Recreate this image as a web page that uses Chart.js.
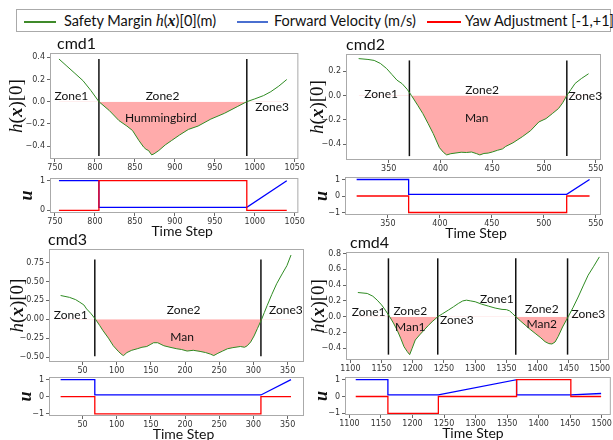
<!DOCTYPE html>
<html>
<head>
<meta charset="utf-8">
<script src="https://cdn.jsdelivr.net/npm/chart.js@4.4.0/dist/chart.umd.min.js"></script>
<style>
  body { margin: 0; background: #fff; width: 613px; height: 440px; position: relative; overflow: hidden; font-family: Lato, sans-serif; }
  canvas { position: absolute; }
  #legend { position: absolute; left: 16px; top: 9px; width: 595px; height: 23px; border: 1px solid #aaa; box-sizing: border-box; font-size: 14.5px; color: #111; }
  #legend .ln { position: absolute; top: 11px; height: 2px; }
  #legend .tx { position: absolute; top: 2px; white-space: nowrap; }
  .m { font-family: "Liberation Serif", serif; font-style: italic; font-size: 16px; }
  .mb { font-family: "Liberation Serif", serif; font-style: italic; font-weight: bold; font-size: 16px; }
</style>
</head>
<body>
<div id="legend">
  <div class="ln" style="left:7px;width:32px;background:#3f8a2a"></div>
  <div class="tx" style="left:47px">Safety Margin <span class="m">h</span>(<span class="mb">x</span>)[0](m)</div>
  <div class="ln" style="left:220px;width:31px;background:#4a6fd0"></div>
  <div class="tx" style="left:257px">Forward Velocity (m/s)</div>
  <div class="ln" style="left:410px;width:34px;background:#ff0000"></div>
  <div class="tx" style="left:448px">Yaw Adjustment [-1,+1]</div>
</div>

<canvas id="c1"></canvas><canvas id="u1"></canvas>
<canvas id="c2"></canvas><canvas id="u2"></canvas>
<canvas id="c3"></canvas><canvas id="u3"></canvas>
<canvas id="c4"></canvas><canvas id="u4"></canvas>

<script>
// ---- cmd1 ----
const t1 = [755, 765, 775, 785, 795, 805, 818, 830, 840, 847, 855, 861, 864, 867, 871, 874, 880, 888, 896, 906, 917, 929, 945, 962, 978, 990, 1000, 1011, 1020, 1030, 1040];
const h1 = [0.385, 0.32, 0.255, 0.19, 0.1, 0.0, -0.08, -0.17, -0.22, -0.26, -0.35, -0.41, -0.43, -0.44, -0.48, -0.47, -0.44, -0.39, -0.35, -0.30, -0.25, -0.22, -0.157, -0.105, -0.045, 0.0, 0.025, 0.055, 0.09, 0.14, 0.2];
const zones1 = [805, 990];
const zoneSpan1 = [-0.49, 0.385];
const blueT1 = [755, 805, 805, 990, 1040];
const blue1 = [1, 1, 0.1, 0.1, 1];
const redT1 = [755, 805, 805, 990, 990, 1040];
const red1 = [0, 0, 1, 1, 0, 0];
const xTicks1 = [750, 800, 850, 900, 950, 1000, 1050];
const yTicks1 = [-0.4, -0.2, 0, 0.2, 0.4];
const uTicks1 = [0, 1];
const notes1 = [
  { text: "Zone1", x: 770.6, y: 0.054 },
  { text: "Zone2", x: 884.6, y: 0.054 },
  { text: "Zone3", x: 1021.6, y: -0.045 },
  { text: "Hummingbird", x: 882.5, y: -0.15 }
];

// ---- cmd2 ----
const t2 = [321, 330, 336, 342, 348, 353, 358, 363, 368, 372, 378, 383, 388, 393, 399, 403, 406, 410, 415, 420, 425, 430, 435, 438, 442, 446, 450, 455, 460, 463, 470, 479, 487, 495, 502, 508, 514, 518, 522, 526, 530, 536, 543];
const h2 = [0.305, 0.298, 0.29, 0.265, 0.223, 0.175, 0.127, 0.098, 0.05, 0.0, -0.08, -0.149, -0.23, -0.314, -0.43, -0.47, -0.49, -0.48, -0.474, -0.468, -0.47, -0.466, -0.48, -0.49, -0.478, -0.475, -0.466, -0.452, -0.44, -0.42, -0.39, -0.34, -0.29, -0.218, -0.19, -0.149, -0.107, -0.06, 0.0, 0.05, 0.1, 0.14, 0.18];
const zones2 = [370, 522];
const zoneSpan2 = [-0.5, 0.29];
const blueT2 = [320, 370, 370, 522, 544];
const blue2 = [1, 1, 0.1, 0.1, 1];
const redT2 = [320, 370, 370, 522, 522, 544];
const red2 = [0, 0, -1, -1, 0, 0];
const xTicks2 = [350, 400, 450, 500, 550];
const yTicks2 = [-0.4, -0.2, 0, 0.2];
const uTicks2 = [-1, 0, 1];
const notes2 = [
  { text: "Zone1", x: 342.7, y: 0.008 },
  { text: "Zone2", x: 440.3, y: 0.044 },
  { text: "Zone3", x: 539.8, y: -0.003 },
  { text: "Man", x: 435, y: -0.185 }
];

// ---- cmd3 ----
const t3 = [18, 31, 40, 46, 52, 56, 62, 69, 75, 80, 88, 95, 103, 108, 110, 115, 122, 130, 137, 144, 150, 154, 160, 169, 178, 188, 195, 203, 212, 222, 230, 237, 242, 248, 255, 262, 270, 281, 287, 291, 296, 301, 306, 312, 316, 320, 327, 334, 342, 349, 355];
const h3 = [0.315, 0.29, 0.26, 0.226, 0.19, 0.137, 0.08, 0.0, -0.08, -0.15, -0.25, -0.35, -0.43, -0.47, -0.48, -0.44, -0.41, -0.39, -0.37, -0.36, -0.33, -0.31, -0.31, -0.35, -0.37, -0.39, -0.40, -0.42, -0.41, -0.425, -0.44, -0.46, -0.48, -0.45, -0.42, -0.39, -0.375, -0.36, -0.37, -0.35, -0.30, -0.22, -0.12, 0.0, 0.09, 0.18, 0.33, 0.47, 0.6, 0.71, 0.85];
const zones3 = [68, 311];
const zoneSpan3 = [-0.49, 0.79];
const blueT3 = [18, 68, 68, 311, 355];
const blue3 = [1, 1, 0.1, 0.1, 1];
const redT3 = [18, 68, 68, 311, 311, 355];
const red3 = [0, 0, -1, -1, 0, 0];
const xTicks3 = [50, 100, 150, 200, 250, 300, 350];
const yTicks3 = [-0.5, -0.25, 0, 0.25, 0.5, 0.75];
const uTicks3 = [-1, 0, 1];
const notes3 = [
  { text: "Zone1", x: 32.8, y: 0.058 },
  { text: "Zone2", x: 198, y: 0.115 },
  { text: "Zone3", x: 347.5, y: 0.115 },
  { text: "Man", x: 195.6, y: -0.24 }
];

// ---- cmd4 ----
const t4 = [1112, 1127, 1136, 1143, 1150, 1156, 1163, 1169, 1175, 1181, 1186, 1191, 1195, 1199, 1204, 1211, 1218, 1225, 1231, 1240, 1248, 1257, 1265, 1273, 1280, 1286, 1293, 1300, 1310, 1321, 1332, 1343, 1350, 1355, 1360, 1365, 1372, 1380, 1388, 1396, 1404, 1412, 1418, 1423, 1428, 1433, 1440, 1449, 1457, 1465, 1473, 1481, 1490, 1499];
const h4 = [0.307, 0.295, 0.26, 0.21, 0.15, 0.084, 0.0, -0.08, -0.17, -0.28, -0.38, -0.44, -0.48, -0.4, -0.295, -0.23, -0.17, -0.11, -0.063, 0.0, 0.04, 0.084, 0.125, 0.168, 0.2, 0.21, 0.2, 0.19, 0.16, 0.135, 0.11, 0.093, 0.09, 0.075, 0.04, 0.0, -0.05, -0.105, -0.16, -0.21, -0.26, -0.316, -0.34, -0.345, -0.32, -0.25, -0.13, 0.0, 0.12, 0.25, 0.39, 0.526, 0.64, 0.758];
const zones4 = [1161, 1240, 1365, 1448];
const zoneSpan4 = [-0.48, 0.74];
const blueT4 = [1110, 1161, 1161, 1241, 1365, 1365, 1451, 1499];
const blue4 = [1, 1, 0.1, 0.1, 1, 0.1, 0.1, 0.18];
const redT4 = [1110, 1161, 1161, 1241, 1241, 1365, 1365, 1451, 1451, 1499];
const red4 = [0, 0, -1, -1, 0, 0, 1, 1, 0, 0];
const xTicks4 = [1100, 1150, 1200, 1250, 1300, 1350, 1400, 1450, 1500];
const yTicks4 = [-0.4, -0.2, 0, 0.2, 0.4, 0.6, 0.8];
const uTicks4 = [-1, 0, 1];
const notes4 = [
  { text: "Zone1", x: 1129.3, y: 0.055 },
  { text: "Zone2", x: 1196, y: 0.072 },
  { text: "Man1", x: 1196, y: -0.126 },
  { text: "Zone3", x: 1270.7, y: -0.042 },
  { text: "Zone1", x: 1334.7, y: 0.223 },
  { text: "Zone2", x: 1406.7, y: 0.097 },
  { text: "Man2", x: 1406.7, y: -0.097 },
  { text: "Zone3", x: 1481.3, y: 0.034 }
];

const GREEN = "#2e8b22";
const BLUE = "#0000ff";
const RED = "#ff0000";
const SERIF = '"Liberation Serif", serif';

function pts(xs, ys) {
  return xs.map((x, i) => ({ x: x, y: ys[i] }));
}

function fmt(dec) {
  return v => v.toFixed(dec).replace("-", "\u2212");
}

// draws the frame, labels and zone notes for a subplot
const decor = {
  id: "decor",
  afterDraw(chart, args, o) {
    const ctx = chart.ctx;
    const a = chart.chartArea;
    const sx = chart.scales.x, sy = chart.scales.y;
    ctx.save();
    ctx.strokeStyle = "#aaaaaa";
    ctx.lineWidth = 1;
    ctx.strokeRect(a.left + 0.5, a.top + 0.5, a.right - a.left - 1, a.bottom - a.top - 1);

    ctx.fillStyle = "#111";
    if (o.title) {
      ctx.font = "16px Lato";
      ctx.textAlign = "left";
      ctx.textBaseline = "middle";
      ctx.fillText(o.title, a.left + o.titleDx, a.top - 9);
    }

    (o.notes || []).forEach(n => {
      ctx.font = "12px Lato";
      ctx.textAlign = "center";
      ctx.textBaseline = "middle";
      ctx.fillText(n.text, sx.getPixelForValue(n.x), sy.getPixelForValue(n.y));
    });

    if (o.ylabel) {
      ctx.translate(a.left - o.ylabelDx, (a.top + a.bottom) / 2);
      ctx.rotate(-Math.PI / 2);
      ctx.textBaseline = "middle";
      ctx.textAlign = "left";
      let w = 0;
      o.ylabel.forEach(s => { ctx.font = s[1]; w += ctx.measureText(s[0]).width; });
      let x = -w / 2;
      o.ylabel.forEach(s => {
        ctx.font = s[1];
        ctx.fillText(s[0], x, 0);
        x += ctx.measureText(s[0]).width;
      });
      ctx.setTransform(1, 0, 0, 1, 0, 0);
    }

    if (o.xlabel) {
      ctx.font = "14px Lato";
      ctx.textAlign = "center";
      ctx.textBaseline = "middle";
      ctx.fillText(o.xlabel, (a.left + a.right) / 2 + (o.xlabelDx || 0), a.bottom + 18);
    }
    ctx.restore();
  }
};

const hLabel = [
  ["h", "italic 19px " + SERIF],
  ["(", "19px " + SERIF],
  ["x", "italic bold 19px " + SERIF],
  [")[0]", "19px " + SERIF]
];
const uLabel = [["u", "italic bold 18px " + SERIF]];

function makeChart(id, box, plot, datasets, xr, yr, xTicks, yTicks, yDec, deco) {
  const cv = document.getElementById(id);
  cv.width = box.w; cv.height = box.h;
  cv.style.left = box.x + "px"; cv.style.top = box.y + "px";
  const tickFont = { family: "DejaVu Sans", size: 8 };
  return new Chart(cv, {
    type: "line",
    data: { datasets: datasets },
    plugins: [decor],
    options: {
      responsive: false,
      animation: false,
      events: [],
      layout: { padding: { top: plot.t - box.y, right: box.x + box.w - plot.r, left: 0, bottom: 0 } },
      plugins: { legend: { display: false }, tooltip: { enabled: false }, decor: deco },
      scales: {
        x: {
          type: "linear", min: xr[0], max: xr[1],
          afterFit: s => { s.height = box.y + box.h - plot.b; },
          afterBuildTicks: s => { s.ticks = xTicks.map(v => ({ value: v })); },
          border: { display: false },
          grid: { drawOnChartArea: false, tickLength: 3, color: "#666" },
          ticks: { font: tickFont, color: "#333", padding: 1, maxRotation: 0, autoSkip: false, callback: v => String(v) }
        },
        y: {
          type: "linear", min: yr[0], max: yr[1],
          afterFit: s => { s.width = plot.l - box.x; },
          afterBuildTicks: s => { s.ticks = yTicks.map(v => ({ value: v })); },
          border: { display: false },
          grid: { drawOnChartArea: false, tickLength: 3, color: "#666" },
          ticks: { font: tickFont, color: "#333", padding: 2, autoSkip: false, callback: fmt(yDec) }
        }
      }
    }
  });
}

function mainSets(t, h, zones, span) {
  const sets = [{
    data: pts(t, h), borderColor: GREEN, borderWidth: 1, pointRadius: 0, tension: 0,
    fill: { target: { value: 0 }, above: "rgba(0,0,0,0)", below: "rgba(255,0,0,0.33)" }
  }];
  zones.forEach(z => {
    sets.push({ data: pts([z, z], span), borderColor: "#111", borderWidth: 1.5, pointRadius: 0, fill: false });
  });
  return sets;
}

function ctrlSets(bt, b, rt, r) {
  return [
    { data: pts(rt, r), borderColor: RED, borderWidth: 1.3, pointRadius: 0, fill: false },
    { data: pts(bt, b), borderColor: BLUE, borderWidth: 1.3, pointRadius: 0, fill: false }
  ];
}

// panel cmd1
makeChart("c1", { x: 0, y: 30, w: 306, h: 144 }, { l: 50, t: 53, r: 302, b: 159 },
  mainSets(t1, h1, zones1, zoneSpan1), [743.8, 1054.5], [-0.517, 0.439], xTicks1, yTicks1, 1,
  { title: "cmd1", titleDx: 7, notes: notes1, ylabel: hLabel, ylabelDx: 33 });
makeChart("u1", { x: 0, y: 170, w: 306, h: 72 }, { l: 50, t: 178, r: 302, b: 213 },
  ctrlSets(blueT1, blue1, redT1, red1), [743.8, 1054.5], [-0.09, 1.09], xTicks1, uTicks1, 0,
  { ylabel: uLabel, ylabelDx: 22.5, xlabel: "Time Step", xlabelDx: 8 });

// panel cmd2
makeChart("c2", { x: 306, y: 30, w: 307, h: 144 }, { l: 346, t: 54, r: 601, b: 160 },
  mainSets(t2, h2, zones2, zoneSpan2), [308.8, 555], [-0.532, 0.343], xTicks2, yTicks2, 1,
  { title: "cmd2", titleDx: 0, notes: notes2, ylabel: hLabel, ylabelDx: 28 });
makeChart("u2", { x: 306, y: 170, w: 307, h: 72 }, { l: 345, t: 177, r: 601, b: 215 },
  ctrlSets(blueT2, blue2, redT2, red2), [308.8, 555], [-1.15, 1.15], xTicks2, uTicks2, 0,
  { ylabel: uLabel, ylabelDx: 23, xlabel: "Time Step", xlabelDx: 3 });

// panel cmd3
makeChart("c3", { x: 0, y: 226, w: 306, h: 151 }, { l: 49, t: 249, r: 304, b: 362 },
  mainSets(t3, h3, zones3, zoneSpan3), [1, 374], [-0.565, 0.93], xTicks3, yTicks3, 2,
  { title: "cmd3", titleDx: -1, notes: notes3, ylabel: hLabel, ylabelDx: 31 });
makeChart("u3", { x: 0, y: 370, w: 306, h: 70 }, { l: 49, t: 377, r: 304, b: 416 },
  ctrlSets(blueT3, blue3, redT3, red3), [1, 374], [-1.13, 1.15], xTicks3, uTicks3, 0,
  { ylabel: uLabel, ylabelDx: 22.5, xlabel: "Time Step", xlabelDx: 7 });

// panel cmd4
makeChart("c4", { x: 306, y: 226, w: 307, h: 151 }, { l: 346, t: 252, r: 609, b: 360 },
  mainSets(t4, h4, zones4, zoneSpan4), [1093, 1514.4], [-0.548, 0.82], xTicks4, yTicks4, 1,
  { title: "cmd4", titleDx: 4, notes: notes4, ylabel: hLabel, ylabelDx: 27 });
makeChart("u4", { x: 306, y: 370, w: 307, h: 70 }, { l: 345, t: 377, r: 611, b: 415 },
  ctrlSets(blueT4, blue4, redT4, red4), [1093, 1514.4], [-1.1, 1.16], xTicks4, uTicks4, 0,
  { ylabel: uLabel, ylabelDx: 23, xlabel: "Time Step", xlabelDx: -5 });
</script>
</body>
</html>
